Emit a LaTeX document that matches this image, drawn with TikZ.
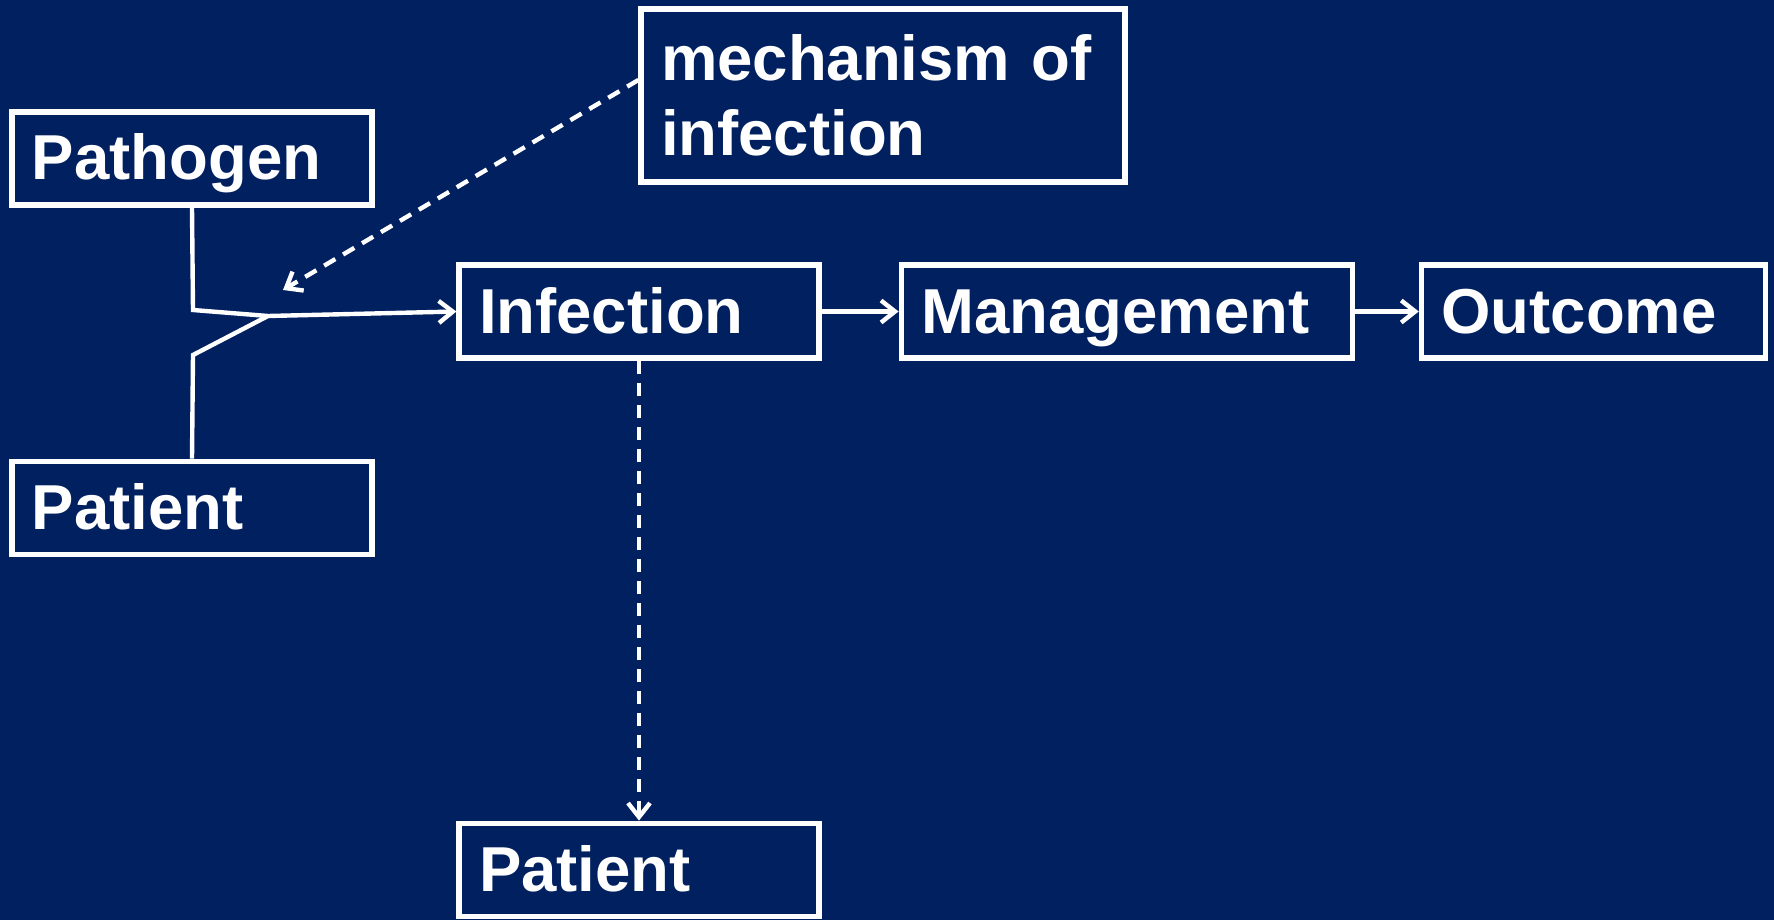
\documentclass[tikz,border=0pt]{standalone}
\usepackage{fontspec}
\setmainfont{Liberation Sans}
\usetikzlibrary{arrows.meta, positioning}
\definecolor{slidenavy}{RGB}{0,32,96}

\begin{document}
\begin{tikzpicture}[x=1pt, y=1pt, node distance=.25cm,
		>={Straight Barb[length=7pt,width=11pt]},
		box/.style={draw=white, line width=2.6pt, text=white, align=left, inner xsep=10pt, inner ysep=0pt,
			font=\bfseries\fontsize{31.75}{37.5}\selectfont},
		oneline/.style={box, text height=24pt, text depth=2.5pt, minimum height=46.5pt},
		link/.style={draw=white, line width=2.2pt},
		dashlink/.style={link, dash pattern=on 6.5pt off 4.5pt}]
		\fill[slidenavy] (0,0) rectangle (887,-460);
		\useasboundingbox (0,0) rectangle (887,-460);

		\node[oneline, text width=160pt] (pathogen) at (96,-79.25) {Pathogen};
		\node[oneline, text width=160pt, below = 125.5pt of pathogen] (patientOne) {Patient};
		\node[oneline, text width=160pt] (infection) at (319.5,-155.75) {Infection};
		\node[oneline, text width=205.5pt, right = 38.5pt of infection] (management) {Management};
		\node[oneline, text width=152pt, right = 32pt of management] (outcome) {Outcome};
		\node[box, text width=222pt, minimum height=86.5pt] (mechanism) at (441.5,-47.75) {mechanism of\\infection};
		\node[oneline, text width=160pt, below = 230pt of infection] (patientTwo) {Patient};

		\coordinate (joinTop) at (96.5,-155);
		\coordinate (joinMid) at (134,-158);
		\coordinate (joinBot) at (96.5,-177.5);
		\coordinate (mechTip) at (141.5,-145);

		\draw[link] (pathogen.south) to (joinTop) to (joinMid);
		\draw[link] (patientOne.north) to (joinBot) to (joinMid);
		\draw[->,link] (joinMid) to (infection.west);
		\draw[->,dashlink] ([yshift=7.75pt]mechanism.west) to (mechTip);

		\draw[->,link] (infection) to (management);
		\draw[->,link] (management) to (outcome);
		\draw[->,dashlink] (infection) to (patientTwo);

	\end{tikzpicture}
\end{document}
